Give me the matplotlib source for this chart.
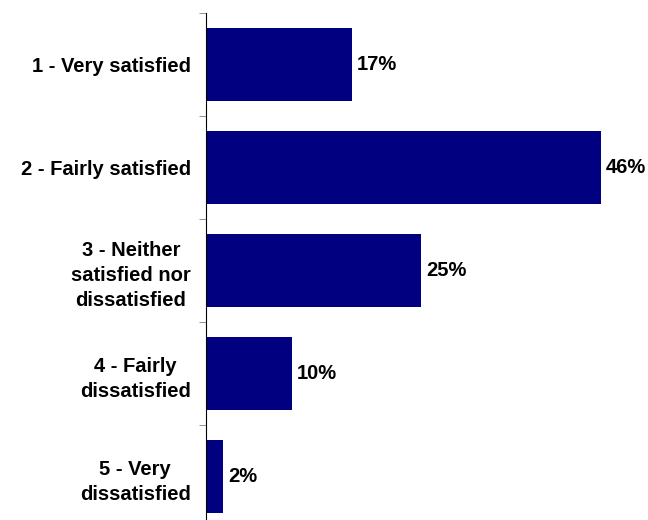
import matplotlib
matplotlib.use("Agg")
import matplotlib.pyplot as plt
import numpy as np

categories = ["1 - Very satisfied", "2 - Fairly satisfied",
              "3 - Neither\nsatisfied nor\ndissatisfied",
              "4 - Fairly\ndissatisfied", "5 - Very\ndissatisfied"]
values = [17, 46, 25, 10, 2]

plt.rcParams['font.family'] = ['Liberation Sans', 'DejaVu Sans']

fig = plt.figure(figsize=(6.48, 5.2), dpi=100)
ax = fig.add_axes([0.318, -0.0154, 0.68, 0.990])

y = np.arange(len(values))
ax.barh(y, values, height=0.71, color="#000080")

for yi, v in zip(y, values):
    ax.annotate(f"{v}%", (v, yi), xytext=(3.6, 0), textcoords="offset points",
                va="center", ha="left", fontsize=14.5, fontweight="bold")

ax.set_ylim(4.5, -0.5)
ax.set_xlim(0, 51.3)
ax.set_yticks(y)
ax.set_yticklabels(categories, fontsize=14.5, fontweight="bold",
                   multialignment="center", linespacing=1.4)
ax.tick_params(axis="y", which="major", length=0, pad=11)
ax.set_yticks(np.arange(-0.5, 5, 1), minor=True)
ax.tick_params(axis="y", which="minor", length=5, color="#808080")
ax.set_xticks([])
for s in ["top", "right", "bottom"]:
    ax.spines[s].set_visible(False)

fig.savefig("out.png", dpi=100)
